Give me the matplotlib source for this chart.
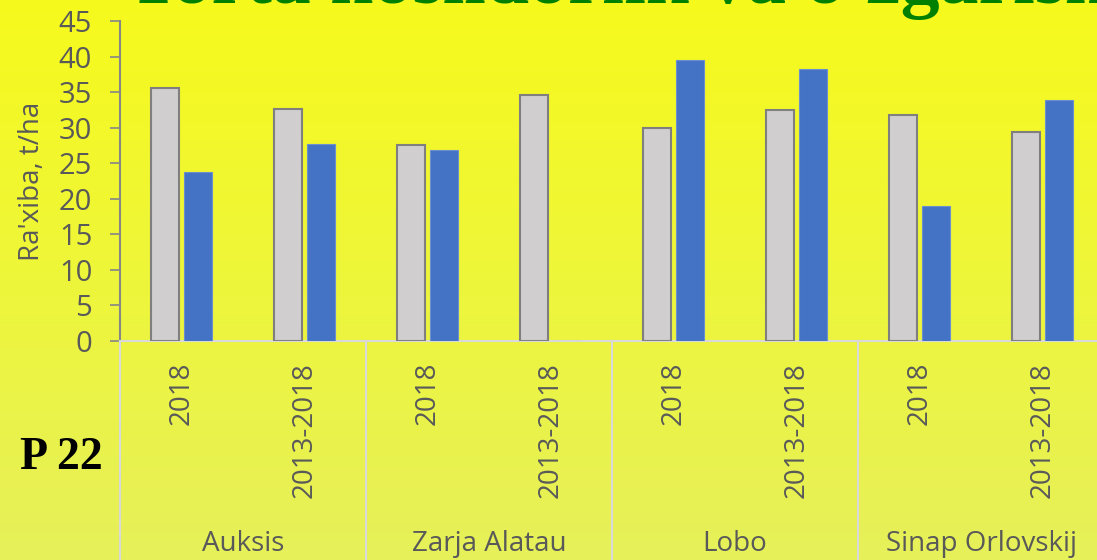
import numpy as np
import matplotlib.pyplot as plt
from matplotlib.colors import LinearSegmentedColormap
import matplotlib.transforms as mtransforms

# data
varieties = ["Auksis", "Zarja Alatau", "Lobo", "Sinap Orlovskij"]
periods = ["2018", "2013-2018"]
gray_vals = [35.6, 32.6, 27.6, 34.6, 30.0, 32.5, 31.8, 29.4]
blue_vals = [23.8, 27.7, 26.8, 0.0, 39.5, 38.3, 19.0, 33.9]
yticks = [0, 5, 10, 15, 20, 25, 30, 35, 40, 45]

W, H = 1097, 560
fig = plt.figure(figsize=(W / 100, H / 100), dpi=100)

# gradient background
bg = fig.add_axes([0, 0, 1, 1], zorder=-5)
cmap = LinearSegmentedColormap.from_list("bg", ["#F6FA1C", "#EEF63A", "#E6F05A"])
grad = np.linspace(0, 1, 256).reshape(-1, 1)
bg.imshow(grad, aspect="auto", cmap=cmap, extent=[0, 1, 0, 1], origin="upper")
bg.axis("off")

txt = "#595959"
font = "Open Sans"

ax = fig.add_axes([120 / W, 219 / H, 984 / W, 320 / H])
ax.patch.set_alpha(0)

n = len(gray_vals)
x = np.arange(n)
bw = 0.23
off = 0.137
ax.bar(x - off, gray_vals, bw, color="#D0CECE", edgecolor="#7F7F7F", linewidth=1.5, zorder=3)
ax.bar(x + off, blue_vals, bw, color="#4472C4", edgecolor="#6C8FCF", linewidth=0.8, zorder=3)

ax.set_xlim(-0.5, n - 0.5)
ax.set_ylim(0, 45)
ax.set_yticks(yticks)
ax.set_yticklabels([str(t) for t in yticks], fontsize=21, color=txt, family=font)
ax.tick_params(axis="y", length=7, width=1.2, color="#868686", pad=13)
ax.set_xticks(x)
ax.set_xticklabels(periods * len(varieties), rotation=90, va="top", ha="center",
                   fontsize=20, color=txt, family=font)
ax.tick_params(axis="x", length=0, pad=15)

for s in ["top", "right"]:
    ax.spines[s].set_visible(False)
ax.spines["left"].set_color("#868686")
ax.spines["left"].set_linewidth(1.5)
ax.spines["bottom"].set_color("#D9D9D9")
ax.spines["bottom"].set_linewidth(1.5)

ax.text((32 - 120) / 984, 0.5, "Ra'xiba, t/ha", transform=ax.transAxes, rotation=90,
        ha="center", va="center", fontsize=20, color=txt, family=font)

# group separators and names
tr = mtransforms.blended_transform_factory(ax.transData, ax.transAxes)
for k in range(len(varieties) + 1):
    xs = k * 2 - 0.5
    ax.plot([xs, xs], [0, -0.7], transform=tr, color="#D9D9D9", lw=1.5, clip_on=False)
for k, name in enumerate(varieties):
    ax.text(k * 2 + 0.5, -0.635, name, transform=tr, ha="center", va="center",
            fontsize=20, color=txt, family=font)

fig.text(20 / W, 1 - 458 / H, "P 22", fontsize=33, fontweight="bold",
         family="Liberation Serif", va="center", ha="left", color="black")

# title, mostly cut off by the top edge
fig.text(125 / W, 1 - 3 / H, "Yorta hosildorlik va o'zgarishi", fontsize=56, fontweight="bold",
         family="Liberation Serif", color="#008000", va="baseline", ha="left")

fig.savefig("out.png", dpi=100)
